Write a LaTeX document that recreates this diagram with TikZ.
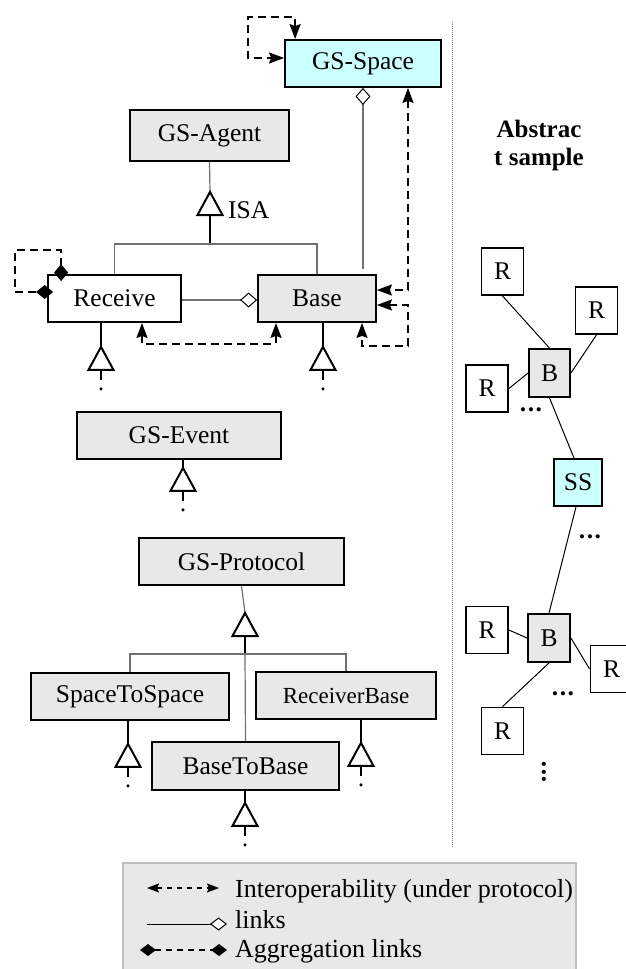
\documentclass[tikz,border=0pt]{standalone}
\usepackage{fontspec}
\setmainfont{Liberation Serif}
\usetikzlibrary{arrows.meta}
\definecolor{boxgray}{HTML}{E8E8E8}
\definecolor{boxcyan}{HTML}{CCFFFF}
\definecolor{linkgray}{HTML}{707070}
\definecolor{legborder}{HTML}{BEBEBE}
\newcommand\boxfont{\fontsize{25.5}{30}\selectfont}
\newcommand\legfont{\fontsize{26}{30}\selectfont}
\begin{document}
\begin{tikzpicture}[x=1pt, y=-1pt,
  box/.style={draw=black, line width=1.8pt, fill=boxgray, inner sep=0pt, font=\boxfont, minimum height=47pt},
  wbox/.style={box, fill=white},
  cbox/.style={box, fill=boxcyan},
  rbox/.style={wbox, minimum width=42pt, minimum height=47pt},
  thk/.style={line width=2pt},
  thn/.style={draw=linkgray, line width=1.2pt},
  fine/.style={draw=black, line width=1pt},
  interop/.style={line width=1.8pt, dash pattern=on 8pt off 5pt, >={Stealth[length=15pt,width=11pt,inset=2pt]}, <->},
  agg/.style={line width=1.8pt, dash pattern=on 8pt off 5pt, >={Diamond[length=17pt,width=14pt]}, <->},
  hollowdia/.style={-{Diamond[open,fill=white,color=black,length=17pt,width=15pt,line width=1pt]}},
  gentri/.pic={\draw[line width=2pt, fill=white, line join=miter] (-12.5,23) -- (0,0) -- (12.5,23) -- cycle;},
  subtri/.pic={\draw[line width=2pt] (0,23) -- (0,33); \fill (0,42) circle (1.7);
               \draw[line width=2pt, fill=white, line join=miter] (-12.5,23) -- (0,0) -- (12.5,23) -- cycle;},
]
\useasboundingbox (0,0) rectangle (625,969);

% ---------- left: class nodes ----------
\node[cbox, minimum width=156pt] (GSSpace) at (363,63.5) {GS-Space};
\node[box, minimum width=159pt, minimum height=51pt] (GSAgent) at (209.5,135.5) {GS-Agent};
\node[wbox, minimum width=133pt] (Receive) at (114.5,298.5) {Receive};
\node[box, minimum width=118pt] (Base) at (317,298.5) {Base};
\node[box, minimum width=204pt] (GSEvent) at (179,435.5) {GS-Event};
\node[box, minimum width=205pt] (GSProtocol) at (241.5,561.5) {GS-Protocol};
\node[box, minimum width=198pt] (SpaceToSpace) at (130,696.5) {SpaceToSpace};
\node[box, minimum width=180pt, font=\fontsize{23}{27}\selectfont] (ReceiverBase) at (346,695.5) {ReceiverBase};
\node[box, minimum width=187pt, minimum height=48pt] (BaseToBase) at (245.5,766) {BaseToBase};

% ISA generalization
\coordinate (isatop) at (210,192);
\draw[thn] (GSAgent.south) -- (isatop);
\draw[thk] (210,214) -- (210,244) coordinate (isaj);
\pic at (isatop) {gentri};
\draw[thn] (Receive.north) |- (isaj) -| (Base.north);
\node[anchor=base west, inner sep=0, font=\boxfont] (isalbl) at (228,218) {ISA};

% protocol generalization
\coordinate (ptop) at (245,613);
\draw[thn] (GSProtocol.south) -- (ptop);
\draw[thk] (245,635) -- (245,654) coordinate (pj);
\pic at (ptop) {gentri};
\draw[thn] (SpaceToSpace.north) |- (pj) -| (ReceiverBase.north);
\draw[thn] (pj) -- (BaseToBase.north);

% subclass stubs
\draw[thk] ([xshift=-13.5pt]Receive.south) -- ++(0,24) coordinate (recsub);
\pic at (recsub) {subtri};
\draw[thk] ([xshift=6pt]Base.south) -- ++(0,24) coordinate (basesub);
\pic at (basesub) {subtri};
\draw[thk] ([xshift=4pt]GSEvent.south) -- ++(0,8) coordinate (evsub);
\pic at (evsub) {subtri};
\draw[thk] ([xshift=-2pt]SpaceToSpace.south) -- ++(0,23) coordinate (sssub);
\pic at (sssub) {subtri};
\draw[thk] ([xshift=15pt]ReceiverBase.south) -- ++(0,23) coordinate (rbsub);
\pic at (rbsub) {subtri};
\draw[thk] ([xshift=-0.5pt]BaseToBase.south) -- ++(0,12) coordinate (bbsub);
\pic at (bbsub) {subtri};

% links (hollow diamond)
\draw[thn, hollowdia] ([shift={(46pt,5pt)}]Base.north) -- (GSSpace.south);
\draw[thn, hollowdia] ([yshift=-1.5pt]Receive.east) -- ([yshift=-1.5pt]Base.west);

% interoperability (dashed arrows)
\draw[interop] ([xshift=11pt]GSSpace.north west) |- (248,17) |- ([yshift=5.5pt]GSSpace.west);
\draw[interop] ([xshift=45pt]GSSpace.south) |- ([yshift=8.5pt]Base.east);
\draw[interop] ([yshift=-6.5pt]Base.east) -| (408,346) -| ([xshift=45pt]Base.south);
\draw[interop] ([xshift=27.5pt]Receive.south) -- ++(0,21) -| ([xshift=-41pt]Base.south);

% aggregation self link
\draw[agg] ([xshift=14pt,yshift=-7pt]Receive.north west) |- (15,250) |- ([xshift=6pt,yshift=6.5pt]Receive.west);

% ---------- separator ----------
\coordinate (sepT) at (452,22);
\coordinate (sepB) at (452,847);
\draw[gray, line width=0.9pt, dash pattern=on 1pt off 1pt] (sepT) -- (sepB);

% ---------- right: abstract sample ----------
\node[anchor=north, align=center, inner sep=0, font=\fontsize{25}{28}\selectfont\bfseries] (title) at (539,120) {Abstrac\\t sample};
\node[rbox] (R1) at (502.5,271.5) {R};
\node[rbox] (R2) at (596.5,310.5) {R};
\node[box, minimum width=41pt, minimum height=48pt] (B1) at (549.5,373) {B};
\node[rbox] (R3) at (487,388.5) {R};
\node[cbox, minimum width=48pt] (SS) at (578,482.5) {SS};
\node[box, minimum width=42pt, minimum height=48pt] (B2) at (549,638) {B};
\node[rbox] (R4) at (487,630) {R};
\node[rbox] (R5) at (611.5,669) {R};
\node[rbox] (R6) at (502.5,731) {R};

\draw[fine] (R1.south) -- (B1.north);
\draw[fine] (R2.south) -- (B1.east);
\draw[fine] (R3.east) -- (B1.west);
\draw[fine] (B1.south) -- ([xshift=-4pt]SS.north);
\draw[fine] ([xshift=-2pt]SS.south) -- (B2.north);
\draw[fine] (R4.east) -- (B2.west);
\draw[fine] (B2.east) -- (R5.west);
\draw[fine] (B2.south) -- (R6.north);

\node[inner sep=0, font=\boxfont\bfseries] (dotsA) at (531,410) {.\kern1.5pt.\kern1.5pt.};
\node[inner sep=0, font=\boxfont\bfseries] (dotsB) at (590,537) {.\kern1.5pt.\kern1.5pt.};
\node[inner sep=0, font=\boxfont\bfseries] (dotsC) at (563,694) {.\kern1.5pt.\kern1.5pt.};
\node[inner sep=0, rotate=90, font=\boxfont\bfseries] (dotsD) at (544,772) {.\kern1pt.\kern1pt.};

% ---------- legend ----------
\node[draw=legborder, fill=boxgray, line width=1.2pt, minimum width=453pt, minimum height=112pt, inner sep=0] (legend) at (349.5,919) {};
\coordinate (l1a) at (147,888); \coordinate (l1b) at (219,888);
\draw[line width=1.5pt, dash pattern=on 5pt off 5pt, >={Stealth[length=12pt,width=9pt,inset=2pt]}, <->] (l1a) -- (l1b);
\coordinate (l2a) at (147,924); \coordinate (l2b) at (227,924);
\draw[line width=1pt, -{Diamond[open,fill=white,length=17pt,width=13pt]}] (l2a) -- (l2b);
\coordinate (l3a) at (140,950); \coordinate (l3b) at (227,950);
\draw[line width=1.5pt, dash pattern=on 6pt off 5pt, >={Diamond[length=16pt,width=12pt]}, <->] (l3a) -- (l3b);
\node[anchor=base west, inner sep=0, font=\legfont] (lt1) at (235,897) {Interoperability (under protocol)};
\node[anchor=base west, inner sep=0, font=\legfont] (lt2) at (235,928) {links};
\node[anchor=base west, inner sep=0, font=\legfont] (lt3) at (235,957) {Aggregation links};
\end{tikzpicture}
\end{document}
